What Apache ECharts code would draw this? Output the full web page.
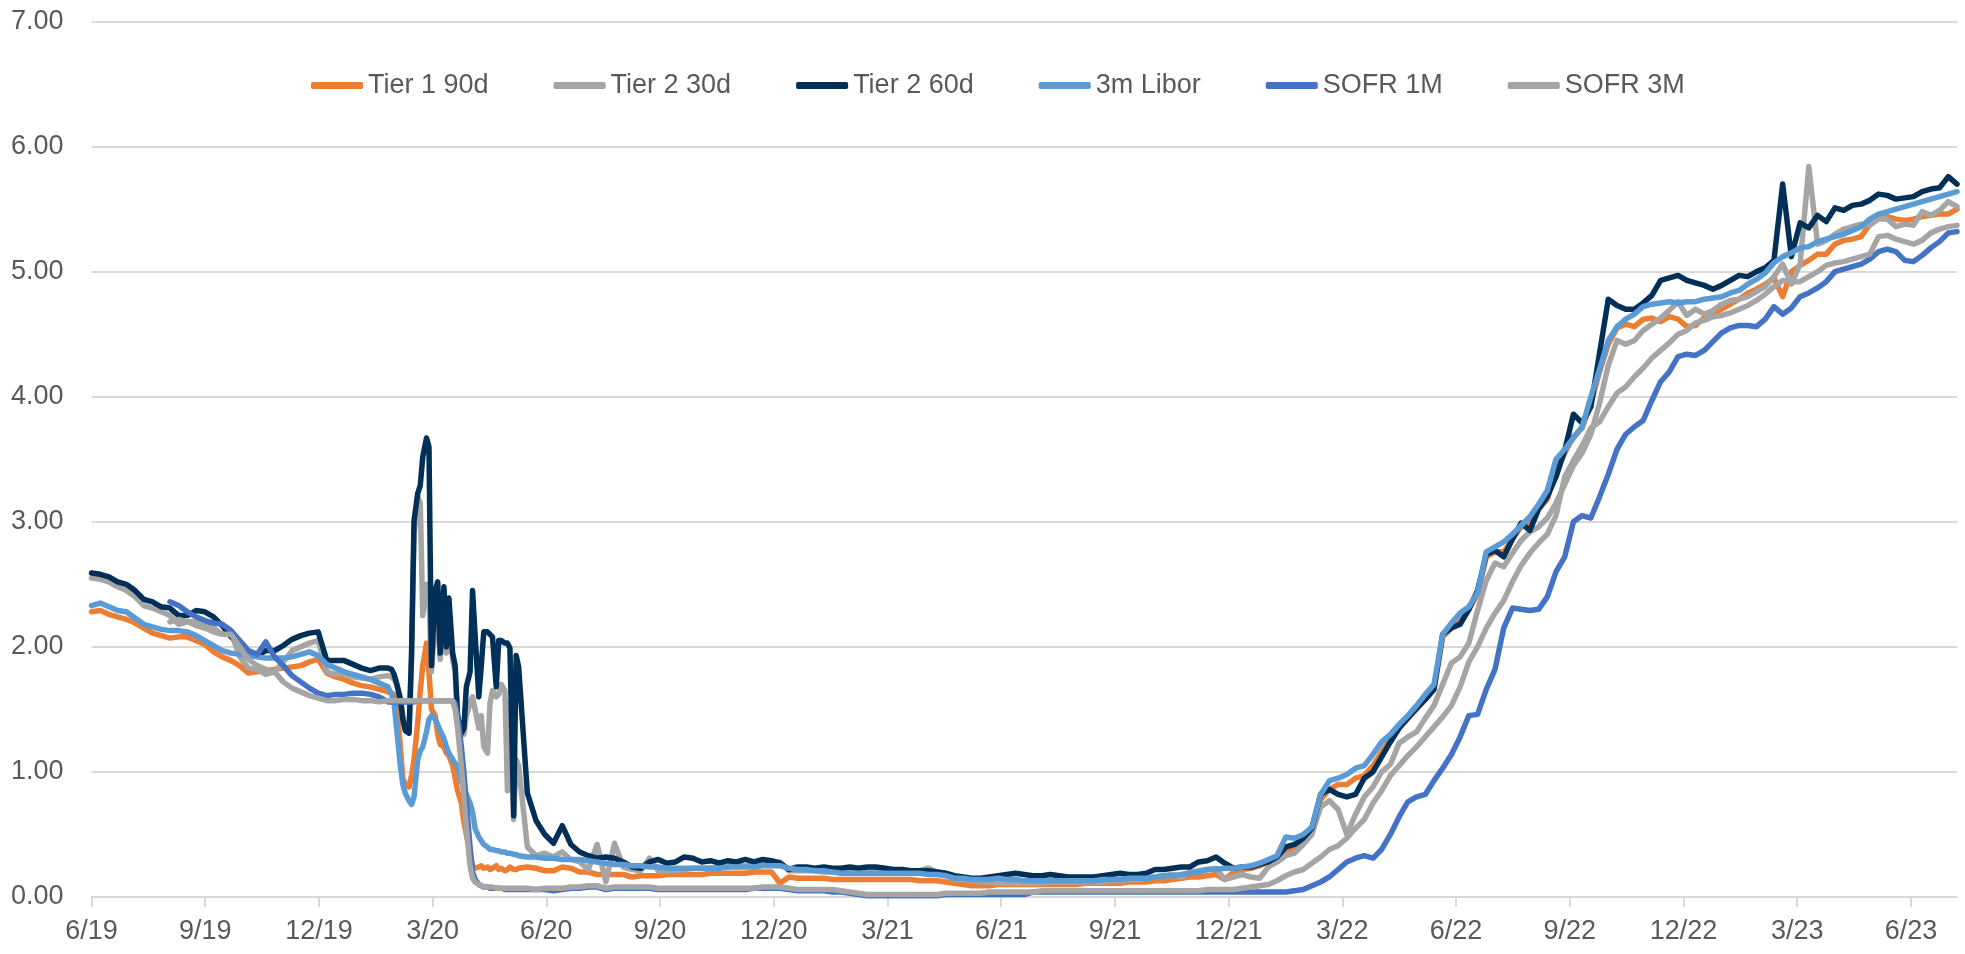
<!DOCTYPE html>
<html>
<head>
<meta charset="utf-8">
<title>Funding rates</title>
<script src="https://cdn.jsdelivr.net/npm/echarts@6/dist/echarts.min.js"></script>
<style>
  html, body { margin: 0; padding: 0; background: #fff; }
  #chart { width: 1965px; height: 954px; }
</style>
</head>
<body>
<div id="chart"></div>
<script>
// Observation calendar: weekly Fridays from 28 Jun 2019, plus Mondays and
// Wednesdays through the March-May 2020 stress period.
const START = Date.UTC(2019, 5, 28);
const DAY = 86400000;
const WEEKS = 214;
const DENSE_FROM = 34, DENSE_TO = 48;

const seriesNames = ['Tier 1 90d', 'Tier 2 30d', 'Tier 2 60d', '3m Libor', 'SOFR 1M', 'SOFR 3M'];
const seriesColors = ['#ED7D31', '#A5A5A5', '#003057', '#5B9BD5', '#4472C4', '#A5A5A5'];

// Quarterly tick labels along the x axis
const tickLabels = ['6/19','9/19','12/19','3/20','6/20','9/20','12/20','3/21','6/21',
                    '9/21','12/21','3/22','6/22','9/22','12/22','3/23','6/23'];

const tier1_90d = [
  2.28,2.29,2.26,2.24,2.22,2.19,2.15,2.11,2.09,2.07,2.08,2.08,2.05,2.02,1.96,1.92,1.89,1.85,1.79,1.80,
  1.81,1.82,1.83,1.84,1.85,1.88,1.90,1.79,1.76,1.74,1.71,1.69,1.68,1.66,
  1.64,1.63,1.62,1.55,1.20,0.95,0.90,0.88,0.97,1.10,1.40,1.65,1.85,2.03,1.80,1.50,1.45,1.30,1.22,1.20,
  1.15,1.13,1.05,0.95,0.85,0.75,0.60,0.50,0.35,0.25,0.23,0.24,0.25,0.23,0.24,0.22,0.23,0.25,0.22,0.23,
  0.21,0.22,0.24,0.22,0.22,0.23,
  0.24,0.23,0.21,0.21,0.24,0.23,0.20,0.20,0.18,0.18,0.18,
  0.18,0.16,0.17,0.17,0.17,0.18,0.18,0.18,0.18,0.18,
  0.19,0.19,0.19,0.19,0.19,0.20,0.20,0.20,0.11,0.16,
  0.15,0.15,0.15,0.15,0.14,0.14,0.14,0.14,0.14,0.14,
  0.14,0.14,0.14,0.14,0.13,0.13,0.13,0.12,0.11,0.10,
  0.09,0.09,0.09,0.10,0.10,0.10,0.10,0.10,0.10,0.10,
  0.10,0.10,0.10,0.11,0.11,0.11,0.11,0.11,0.12,0.12,
  0.12,0.13,0.13,0.14,0.15,0.16,0.16,0.17,0.18,0.14,
  0.20,0.22,0.23,0.25,0.28,0.30,0.36,0.40,0.45,0.55,
  0.78,0.86,0.90,0.90,0.95,0.97,1.05,1.16,1.26,1.36,
  1.43,1.50,1.58,1.66,2.08,2.15,2.20,2.30,2.42,2.72,
  2.76,2.76,2.86,2.96,2.98,3.10,3.18,3.40,3.55,3.68,
  3.75,3.95,4.20,4.42,4.55,4.58,4.56,4.62,4.63,4.60,
  4.64,4.62,4.56,4.57,4.63,4.66,4.70,4.74,4.78,4.83,
  4.86,4.90,4.95,4.80,5.00,5.05,5.09,5.14,5.14,5.22,
  5.25,5.26,5.28,5.38,5.43,5.44,5.42,5.41,5.42,5.44,
  5.45,5.46,5.46,5.50
];

const tier2_30d = [
  2.55,2.54,2.52,2.48,2.45,2.40,2.33,2.31,2.28,2.25,2.18,2.20,2.20,2.18,2.15,2.10,2.12,1.92,1.83,1.82,
  1.78,1.80,1.88,1.97,2.00,2.03,2.05,1.80,1.78,1.79,1.76,1.75,1.74,1.76,
  1.77,1.76,1.74,1.70,1.60,1.45,1.35,1.33,1.90,2.90,3.20,3.15,2.25,2.50,2.40,1.80,2.20,2.30,1.90,2.20,
  1.95,2.20,1.90,1.80,1.40,1.30,1.30,1.45,1.55,1.60,1.50,1.35,1.45,1.20,1.15,1.55,1.65,1.60,1.62,1.70,
  1.65,0.85,1.55,0.62,1.10,1.05,
  0.40,0.33,0.35,0.32,0.36,0.30,0.28,0.22,0.42,0.12,0.43,
  0.24,0.22,0.21,0.31,0.21,0.21,0.21,0.22,0.23,0.23,
  0.23,0.24,0.24,0.25,0.25,0.26,0.27,0.28,0.28,0.21,
  0.21,0.21,0.21,0.20,0.20,0.20,0.20,0.20,0.20,0.20,
  0.20,0.20,0.20,0.20,0.21,0.23,0.20,0.19,0.14,0.14,
  0.13,0.12,0.12,0.11,0.11,0.11,0.11,0.11,0.11,0.12,
  0.12,0.12,0.12,0.12,0.12,0.12,0.13,0.13,0.14,0.14,
  0.15,0.16,0.17,0.18,0.16,0.20,0.21,0.22,0.23,0.14,
  0.16,0.18,0.16,0.15,0.24,0.28,0.33,0.35,0.42,0.50,
  0.72,0.77,0.70,0.50,0.66,0.80,0.88,1.00,1.06,1.23,
  1.28,1.32,1.43,1.53,1.70,1.87,1.92,2.03,2.29,2.53,
  2.67,2.64,2.75,2.85,2.92,2.96,3.03,3.15,3.30,3.45,
  3.55,3.70,3.95,4.25,4.45,4.42,4.45,4.53,4.58,4.63,
  4.69,4.76,4.65,4.70,4.66,4.69,4.74,4.77,4.78,4.80,
  4.84,4.88,4.96,5.06,4.90,5.06,5.84,5.22,5.25,5.30,
  5.34,5.36,5.38,5.37,5.42,5.42,5.36,5.38,5.37,5.48,
  5.45,5.49,5.56,5.52
];

const tier2_60d = [
  2.59,2.58,2.56,2.52,2.50,2.45,2.38,2.36,2.32,2.31,2.25,2.25,2.29,2.28,2.24,2.17,2.08,2.03,1.96,1.93,
  1.97,1.97,2.01,2.06,2.09,2.11,2.12,1.89,1.89,1.89,1.86,1.83,1.81,1.83,
  1.83,1.82,1.78,1.71,1.58,1.42,1.33,1.31,1.95,3.01,3.23,3.29,3.52,3.67,3.60,1.85,2.45,2.52,1.95,2.48,
  2.00,2.39,1.95,1.85,1.45,1.31,1.35,1.68,1.80,2.45,2.10,1.60,1.85,2.12,2.12,2.10,2.08,1.68,2.05,2.05,
  2.03,2.03,1.99,0.65,1.93,1.84,
  0.83,0.61,0.50,0.43,0.57,0.42,0.36,0.33,0.31,0.32,0.31,
  0.28,0.24,0.23,0.28,0.30,0.27,0.28,0.32,0.31,0.28,
  0.29,0.27,0.29,0.28,0.30,0.28,0.30,0.29,0.27,0.22,
  0.24,0.24,0.23,0.24,0.23,0.23,0.24,0.23,0.24,0.24,
  0.23,0.22,0.22,0.21,0.21,0.21,0.20,0.19,0.17,0.16,
  0.15,0.15,0.16,0.17,0.18,0.19,0.18,0.17,0.17,0.18,
  0.17,0.16,0.16,0.16,0.16,0.17,0.18,0.19,0.18,0.18,
  0.19,0.22,0.22,0.23,0.24,0.24,0.28,0.29,0.32,0.27,
  0.23,0.24,0.24,0.26,0.28,0.32,0.40,0.42,0.47,0.55,
  0.82,0.86,0.82,0.80,0.82,0.95,1.00,1.12,1.24,1.35,
  1.43,1.51,1.58,1.66,2.10,2.15,2.18,2.30,2.45,2.74,
  2.77,2.72,2.86,2.99,2.93,3.10,3.20,3.36,3.57,3.86,
  3.79,3.92,4.35,4.78,4.73,4.70,4.70,4.75,4.81,4.93,
  4.95,4.97,4.93,4.91,4.89,4.86,4.89,4.93,4.97,4.96,
  5.00,5.03,5.09,5.70,5.12,5.39,5.35,5.45,5.40,5.51,
  5.49,5.53,5.54,5.57,5.62,5.61,5.58,5.59,5.60,5.64,
  5.66,5.67,5.76,5.70
];

const libor_3m = [
  2.33,2.35,2.32,2.29,2.28,2.23,2.18,2.16,2.14,2.13,2.13,2.12,2.09,2.05,2.01,1.97,1.95,1.94,1.93,1.92,
  1.91,1.91,1.91,1.92,1.94,1.96,1.93,1.86,1.83,1.80,1.78,1.76,1.74,1.71,
  1.68,1.62,1.55,1.35,1.05,0.90,0.83,0.77,0.74,0.80,1.10,1.17,1.20,1.32,1.42,1.45,1.42,1.38,1.33,1.27,
  1.20,1.15,1.10,1.07,1.05,0.92,0.88,0.82,0.75,0.68,0.55,0.48,0.45,0.42,0.40,0.38,0.38,0.37,0.37,0.36,
  0.36,0.35,0.35,0.34,0.34,0.33,
  0.32,0.32,0.31,0.31,0.30,0.30,0.30,0.29,0.28,0.27,0.26,
  0.26,0.25,0.25,0.24,0.24,0.23,0.23,0.23,0.23,0.23,
  0.23,0.23,0.24,0.24,0.24,0.24,0.25,0.25,0.25,0.23,
  0.22,0.22,0.21,0.21,0.20,0.19,0.19,0.19,0.19,0.19,
  0.19,0.19,0.19,0.19,0.19,0.18,0.18,0.17,0.15,0.15,
  0.14,0.14,0.14,0.15,0.14,0.14,0.13,0.13,0.13,0.13,
  0.13,0.13,0.13,0.13,0.13,0.14,0.14,0.14,0.15,0.15,
  0.15,0.16,0.17,0.17,0.18,0.19,0.20,0.22,0.22,0.23,
  0.23,0.24,0.25,0.27,0.30,0.33,0.48,0.47,0.50,0.56,
  0.82,0.93,0.95,0.98,1.03,1.05,1.14,1.24,1.30,1.38,
  1.45,1.53,1.62,1.70,2.10,2.19,2.27,2.32,2.43,2.76,
  2.80,2.84,2.90,2.97,3.04,3.14,3.25,3.50,3.58,3.67,
  3.76,4.00,4.22,4.45,4.56,4.62,4.66,4.72,4.74,4.75,
  4.76,4.75,4.76,4.76,4.78,4.79,4.80,4.83,4.85,4.90,
  4.94,4.99,5.07,5.12,5.15,5.19,5.20,5.24,5.26,5.28,
  5.30,5.33,5.36,5.42,5.46,5.48,5.50,5.52,5.54,5.56,
  5.58,5.60,5.62,5.64
];

const sofr_1m = [
  null,null,null,null,null,null,null,null,null,
  2.36,2.33,2.28,2.24,2.21,2.19,2.18,2.13,2.05,1.97,1.94,2.04,1.92,1.85,1.77,1.72,1.67,1.63,1.61,1.62,
  1.62,1.63,1.63,1.62,1.60,
  1.56,1.56,1.56,1.56,1.56,1.56,1.56,1.56,1.56,1.56,1.57,1.57,1.57,1.57,1.57,1.57,1.57,1.57,1.57,1.57,
  1.57,1.57,1.57,1.55,1.45,1.20,1.00,0.75,0.40,0.20,0.14,0.10,0.09,0.08,0.08,0.07,0.07,0.07,0.07,0.07,
  0.06,0.06,0.06,0.06,0.06,0.06,
  0.06,0.06,0.06,0.05,0.06,0.07,0.07,0.08,0.08,0.06,0.07,
  0.07,0.07,0.07,0.07,0.06,0.06,0.06,0.06,0.06,0.06,
  0.06,0.06,0.06,0.06,0.06,0.07,0.07,0.07,0.07,0.06,
  0.05,0.05,0.05,0.05,0.04,0.04,0.03,0.02,0.01,0.01,
  0.01,0.01,0.01,0.01,0.01,0.01,0.01,0.02,0.02,0.02,
  0.02,0.02,0.02,0.02,0.02,0.02,0.02,0.04,0.04,0.04,
  0.04,0.04,0.04,0.04,0.04,0.04,0.04,0.04,0.04,0.04,
  0.04,0.04,0.04,0.04,0.04,0.04,0.04,0.04,0.04,0.04,
  0.04,0.04,0.04,0.04,0.04,0.04,0.04,0.05,0.06,0.09,
  0.12,0.16,0.22,0.28,0.31,0.33,0.31,0.38,0.50,0.64,
  0.76,0.80,0.82,0.93,1.03,1.14,1.28,1.45,1.46,1.66,
  1.82,2.15,2.31,2.30,2.29,2.30,2.40,2.60,2.72,3.00,
  3.05,3.03,3.20,3.38,3.58,3.70,3.76,3.81,3.97,4.12,
  4.20,4.32,4.34,4.33,4.37,4.44,4.51,4.55,4.57,4.57,
  4.56,4.62,4.72,4.66,4.71,4.80,4.83,4.87,4.92,5.00,
  5.02,5.04,5.06,5.10,5.16,5.18,5.16,5.09,5.08,5.13,
  5.19,5.24,5.31,5.32
];

const sofr_3m = [
  null,null,null,null,null,null,null,null,null,
  2.20,2.22,2.20,2.17,2.15,2.12,2.10,2.10,2.00,1.90,1.85,1.82,1.80,1.72,1.67,1.64,1.61,1.59,1.57,1.57,
  1.58,1.58,1.57,1.57,1.56,
  1.57,1.57,1.57,1.57,1.57,1.57,1.57,1.57,1.57,1.57,1.57,1.57,1.57,1.57,1.57,1.57,1.57,1.57,1.57,1.57,
  1.57,1.57,1.57,1.50,1.35,1.05,0.80,0.55,0.25,0.15,0.12,0.10,0.09,0.08,0.08,0.08,0.08,0.07,0.07,0.07,
  0.07,0.07,0.07,0.07,0.07,0.07,
  0.07,0.06,0.07,0.07,0.07,0.08,0.08,0.09,0.09,0.07,0.08,
  0.08,0.08,0.08,0.08,0.07,0.07,0.07,0.07,0.07,0.07,
  0.07,0.07,0.07,0.07,0.07,0.07,0.08,0.08,0.08,0.07,
  0.06,0.06,0.06,0.06,0.06,0.05,0.04,0.03,0.02,0.02,
  0.02,0.02,0.02,0.02,0.02,0.02,0.02,0.03,0.03,0.03,
  0.03,0.03,0.04,0.04,0.04,0.04,0.04,0.04,0.05,0.05,
  0.05,0.05,0.05,0.05,0.05,0.05,0.05,0.05,0.05,0.05,
  0.05,0.05,0.05,0.05,0.05,0.05,0.05,0.06,0.06,0.06,
  0.06,0.07,0.08,0.09,0.10,0.13,0.17,0.20,0.22,0.27,
  0.32,0.38,0.41,0.47,0.55,0.62,0.75,0.85,0.97,1.05,
  1.13,1.20,1.28,1.36,1.44,1.53,1.68,1.88,2.00,2.15,
  2.27,2.37,2.52,2.65,2.75,2.83,2.90,3.05,3.36,3.49,
  3.61,3.75,3.80,3.92,4.03,4.08,4.16,4.23,4.31,4.37,
  4.43,4.50,4.53,4.59,4.61,4.64,4.65,4.67,4.70,4.73,
  4.77,4.82,4.88,4.93,4.92,4.92,4.96,5.00,5.05,5.07,
  5.08,5.10,5.12,5.14,5.28,5.29,5.26,5.24,5.22,5.25,
  5.31,5.34,5.36,5.37
];

function observationDates() {
  const out = [];
  for (let k = 0; k <= WEEKS; k++) {
    const fri = START + 7 * k * DAY;
    out.push(fri);
    if (k >= DENSE_FROM && k <= DENSE_TO) out.push(fri + 3 * DAY, fri + 5 * DAY);
  }
  return out;
}

// Position on the x axis in months elapsed since the first observation
const MONTH_DAYS = 30.4375;
function monthsSinceStart(t) { return (t - START) / DAY / MONTH_DAYS; }

const dates = observationDates();
const allValues = [tier1_90d, tier2_30d, tier2_60d, libor_3m, sofr_1m, sofr_3m];
allValues.forEach((arr, i) => {
  if (arr.length !== dates.length) {
    throw new Error(seriesNames[i] + ': ' + arr.length + ' values for ' + dates.length + ' dates');
  }
});

const xMax = monthsSinceStart(dates[dates.length - 1]);
const tickValues = tickLabels.map((_, i) => i * 3);

const FONT = "'Liberation Sans Narrow', 'Arial Narrow', 'Liberation Sans', Arial, sans-serif";
const FONT_SIZE = 27;
const TEXT = '#595959';
const GRID = '#D9D9D9';

const series = seriesNames.map((name, i) => ({
  name: name,
  type: 'line',
  showSymbol: false,
  symbol: 'none',
  smooth: false,
  connectNulls: false,
  lineStyle: { width: 5.5, color: seriesColors[i], cap: 'round', join: 'round' },
  itemStyle: { color: seriesColors[i] },
  emphasis: { disabled: true },
  data: dates.map((t, j) => allValues[i][j] == null ? null : [monthsSinceStart(t), allValues[i][j]])
            .filter(p => p !== null)
}));

const chart = echarts.init(document.getElementById('chart'), null, { renderer: 'canvas' });
chart.setOption({
  animation: false,
  backgroundColor: '#ffffff',
  grid: { left: 91.5, right: 8, top: 21.5, bottom: 57, containLabel: false },
  legend: {
    data: seriesNames,
    left: 311,
    top: 72,
    padding: 0,
    icon: 'roundRect',
    itemWidth: 52,
    itemHeight: 7,
    itemGap: 65,
    textStyle: { fontFamily: FONT, fontSize: FONT_SIZE, color: TEXT }
  },
  xAxis: {
    type: 'value',
    min: 0,
    max: xMax,
    interval: 3,
    axisLine: { show: true, onZero: false, lineStyle: { color: GRID, width: 2 } },
    axisTick: { show: true, length: 10, customValues: tickValues, lineStyle: { color: GRID, width: 2 } },
    splitLine: { show: false },
    axisLabel: {
      customValues: tickValues,
      margin: 21,
      fontFamily: FONT,
      fontSize: FONT_SIZE,
      color: TEXT,
      formatter: v => {
        const i = Math.round(v / 3);
        return Math.abs(v - i * 3) < 1e-6 && tickLabels[i] ? tickLabels[i] : '';
      }
    }
  },
  yAxis: {
    type: 'value',
    min: 0,
    max: 7,
    interval: 1,
    axisLine: { show: false },
    axisTick: { show: false },
    splitLine: { show: true, lineStyle: { color: GRID, width: 2 } },
    axisLabel: {
      margin: 28,
      fontFamily: FONT,
      fontSize: FONT_SIZE,
      color: TEXT,
      formatter: v => v.toFixed(2)
    }
  },
  series: series
});
</script>
</body>
</html>
